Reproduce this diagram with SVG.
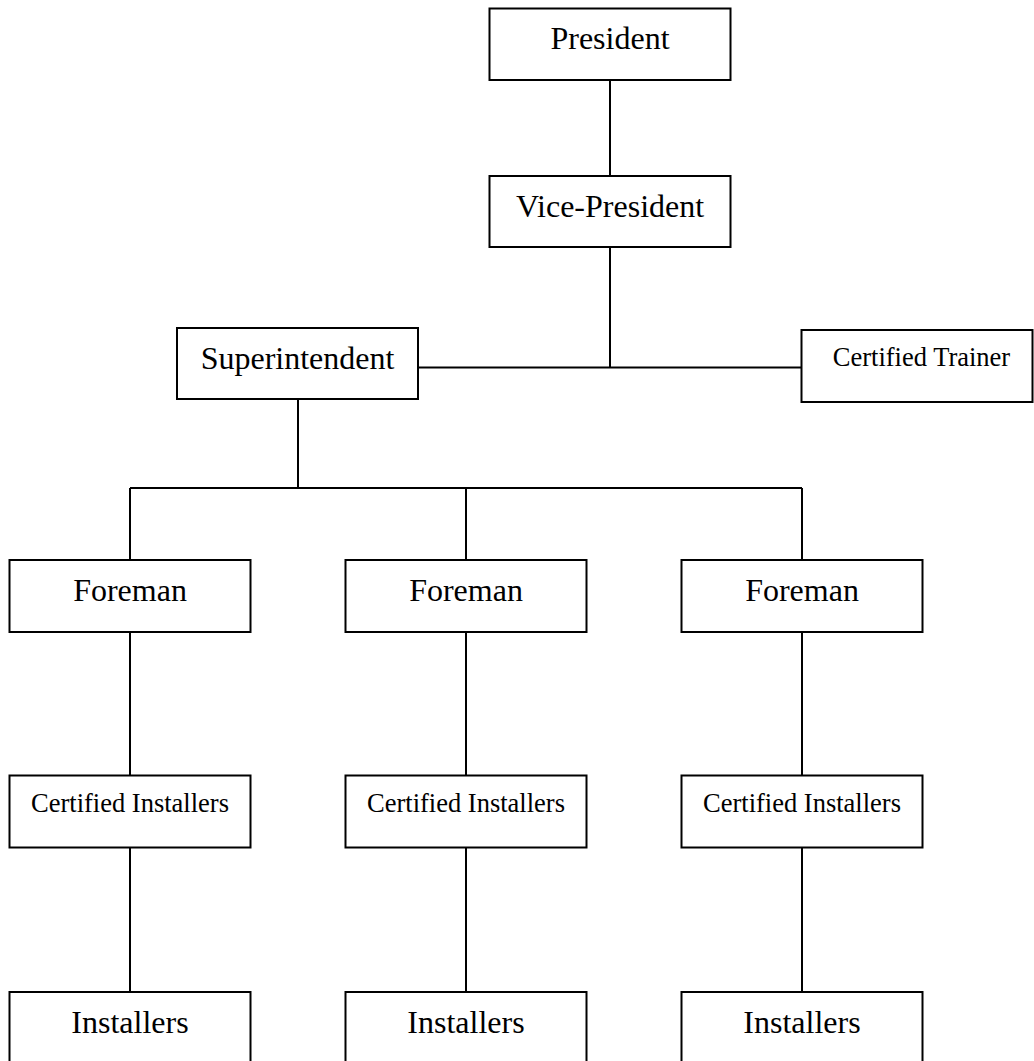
<svg xmlns="http://www.w3.org/2000/svg" width="1034" height="1061" viewBox="0 0 1034 1061">
<style>
.box{fill:#fff;stroke:#000;stroke-width:2}
.ln{stroke:#000;stroke-width:2;fill:none}
.t{font-family:"Liberation Serif","Times New Roman",serif;fill:#000;text-anchor:middle}
.big{font-size:32px}
.small{font-size:26.5px}
</style>
<rect width="1034" height="1061" fill="#fff"/>
<g id="connectors">
<path class="ln" d="M610 80V176 M610 247V367.5 M418 367.5H801.5 M298 399V488 M130 488H802 M130 488V560 M466 488V560 M802 488V560 M130 632V775.5 M466 632V775.5 M802 632V775.5 M130 847.5V992 M466 847.5V992 M802 847.5V992"/>
</g>
<g id="president"><rect class="box" x="489.5" y="8.5" width="241" height="71.5"/><text class="t big" x="610" y="49">President</text></g>
<g id="vice-president"><rect class="box" x="489.5" y="176" width="241" height="71"/><text class="t big" x="610" y="217">Vice-President</text></g>
<g id="superintendent"><rect class="box" x="177" y="328" width="241" height="71"/><text class="t big" x="297.5" y="369">Superintendent</text></g>
<g id="trainer"><rect class="box" x="801.5" y="330" width="231" height="72"/><text class="t small" x="921.5" y="366">Certified Trainer</text></g>
<g id="foreman1"><rect class="box" x="9.5" y="560" width="241" height="72"/><text class="t big" x="130" y="601">Foreman</text></g>
<g id="foreman2"><rect class="box" x="345.5" y="560" width="241" height="72"/><text class="t big" x="466" y="601">Foreman</text></g>
<g id="foreman3"><rect class="box" x="681.5" y="560" width="241" height="72"/><text class="t big" x="802" y="601">Foreman</text></g>
<g id="certinst1"><rect class="box" x="9.5" y="775.5" width="241" height="72"/><text class="t small" x="130" y="812">Certified Installers</text></g>
<g id="certinst2"><rect class="box" x="345.5" y="775.5" width="241" height="72"/><text class="t small" x="466" y="812">Certified Installers</text></g>
<g id="certinst3"><rect class="box" x="681.5" y="775.5" width="241" height="72"/><text class="t small" x="802" y="812">Certified Installers</text></g>
<g id="installers1"><rect class="box" x="9.5" y="992" width="241" height="80"/><text class="t big" x="130" y="1033">Installers</text></g>
<g id="installers2"><rect class="box" x="345.5" y="992" width="241" height="80"/><text class="t big" x="466" y="1033">Installers</text></g>
<g id="installers3"><rect class="box" x="681.5" y="992" width="241" height="80"/><text class="t big" x="802" y="1033">Installers</text></g>
</svg>
